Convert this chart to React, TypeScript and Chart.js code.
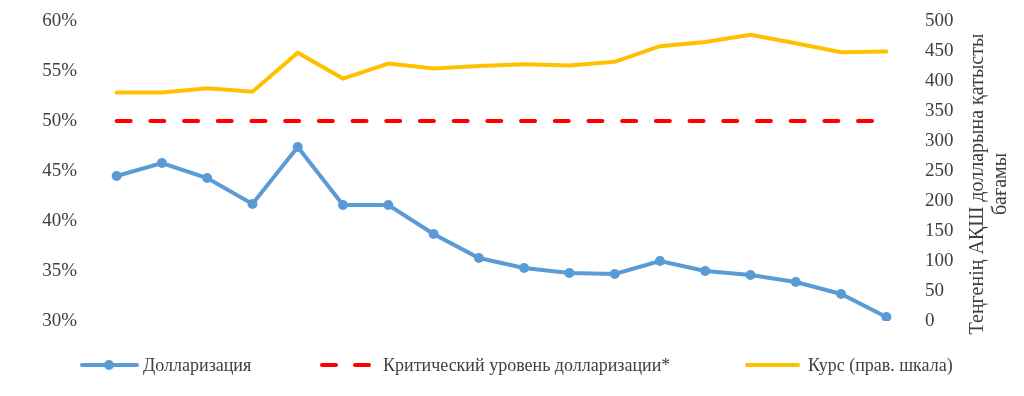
import React, { useEffect, useRef } from "react";
import { Chart, registerables } from "chart.js";

Chart.register(...registerables);

const categories = ["1", "2", "3", "4", "5", "6", "7", "8", "9", "10", "11", "12", "13", "14", "15", "16", "17", "18"];
const dollarization = [44.5, 45.8, 44.3, 41.7, 47.4, 41.6, 41.6, 38.7, 36.3, 35.3, 34.8, 34.7, 36.0, 35.0, 34.6, 33.9, 32.7, 30.4];
const criticalLevel = [50, 50, 50, 50, 50, 50, 50, 50, 50, 50, 50, 50, 50, 50, 50, 50, 50, 50];
const exchangeRate = [381, 381, 388, 382, 447, 404, 429, 421, 425, 428, 426, 432, 458, 465, 477, 463, 448, 449];

const seriesNames = ["Долларизация", "Критический уровень долларизации*", "Курс (прав. шкала)"];
const rightTitle = ["Теңгенің АҚШ долларына қатысты", "бағамы"];

const FONT = "'Liberation Serif', 'Times New Roman', serif";
const TEXT = "#404040";
const BLUE = "#5B9BD5";
const RED = "#FF0000";
const GOLD = "#FFC000";

const extrasPlugin = {
  id: "extras",
  afterDraw(chart: any) {
    const ctx = chart.ctx;
    ctx.save();
    // right axis title (reads bottom-to-top)
    ctx.fillStyle = TEXT;
    ctx.font = `20px ${FONT}`;
    ctx.textAlign = "center";
    ctx.textBaseline = "middle";
    ctx.translate(978, 184);
    ctx.rotate(-Math.PI / 2);
    ctx.fillText(rightTitle[0], 0, 0);
    ctx.fillText(rightTitle[1], 0, 23);
    ctx.restore();

    // legend
    const y = 365;
    ctx.save();
    ctx.font = `18px ${FONT}`;
    ctx.textAlign = "left";
    ctx.textBaseline = "middle";
    ctx.lineWidth = 4;
    // blue
    ctx.strokeStyle = BLUE;
    ctx.lineCap = "round";
    ctx.beginPath();
    ctx.moveTo(82, y);
    ctx.lineTo(137, y);
    ctx.stroke();
    ctx.fillStyle = BLUE;
    ctx.beginPath();
    ctx.arc(109, y, 5, 0, Math.PI * 2);
    ctx.fill();
    ctx.fillStyle = TEXT;
    ctx.fillText(seriesNames[0], 143, y + 1);
    // red dashed
    ctx.strokeStyle = RED;
    ctx.setLineDash([14, 19]);
    ctx.beginPath();
    ctx.moveTo(322, y);
    ctx.lineTo(373, y);
    ctx.stroke();
    ctx.setLineDash([]);
    ctx.fillStyle = TEXT;
    ctx.fillText(seriesNames[1], 383, y + 1);
    // gold
    ctx.strokeStyle = GOLD;
    ctx.beginPath();
    ctx.moveTo(747, y);
    ctx.lineTo(798, y);
    ctx.stroke();
    ctx.fillStyle = TEXT;
    ctx.fillText(seriesNames[2], 808, y + 1);
    ctx.restore();
  },
};

function zeroPad(scale: any, width: number) {
  scale.width = width;
  scale.paddingTop = 0;
  scale.paddingBottom = 0;
}

export default function App() {
  const ref = useRef<HTMLCanvasElement | null>(null);
  useEffect(() => {
    if (!ref.current) return;
    const chart = new Chart(ref.current, {
      type: "line",
      data: {
        labels: categories,
        datasets: [
          {
            label: seriesNames[0],
            data: dollarization,
            borderColor: BLUE,
            backgroundColor: BLUE,
            borderWidth: 4,
            pointRadius: 5,
            pointBorderWidth: 0,
            pointBackgroundColor: BLUE,
            yAxisID: "y",
            order: 1,
          },
          {
            label: seriesNames[1],
            data: criticalLevel,
            borderColor: RED,
            backgroundColor: RED,
            borderWidth: 4,
            borderDash: [14, 19.7],
            borderCapStyle: "round",
            pointRadius: 0,
            yAxisID: "y",
            order: 2,
          },
          {
            label: seriesNames[2],
            data: exchangeRate,
            borderColor: GOLD,
            backgroundColor: GOLD,
            borderWidth: 4,
            borderCapStyle: "round",
            pointRadius: 0,
            yAxisID: "y1",
            order: 3,
          },
        ],
      },
      options: {
        animation: false,
        responsive: true,
        maintainAspectRatio: false,
        layout: { padding: { top: 21, left: 0, right: 0, bottom: 0 } },
        plugins: { legend: { display: false }, tooltip: { enabled: false } },
        scales: {
          x: {
            type: "category",
            offset: true,
            grid: { display: false, drawTicks: false },
            border: { display: false },
            ticks: { display: false },
            afterFit(scale: any) {
              scale.height = 75;
            },
          },
          y: {
            position: "left",
            min: 30,
            max: 60,
            grid: { display: false, drawTicks: false },
            border: { display: false },
            ticks: {
              stepSize: 5,
              padding: 17,
              color: TEXT,
              font: { family: FONT, size: 19 },
              callback: (v: any) => `${v}%`,
            },
            afterFit(scale: any) {
              zeroPad(scale, 94);
            },
          },
          y1: {
            position: "right",
            min: 0,
            max: 500,
            grid: { display: false, drawTicks: false },
            border: { display: false },
            ticks: {
              stepSize: 50,
              padding: 16,
              color: TEXT,
              font: { family: FONT, size: 19 },
            },
            afterFit(scale: any) {
              zeroPad(scale, 115);
            },
          },
        },
      },
      plugins: [extrasPlugin],
    });
    return () => chart.destroy();
  }, []);
  return (
    <div style={{ position: "absolute", left: 0, top: 0, width: 1024, height: 396, background: "#fff" }}>
      <canvas ref={ref} />
    </div>
  );
}
